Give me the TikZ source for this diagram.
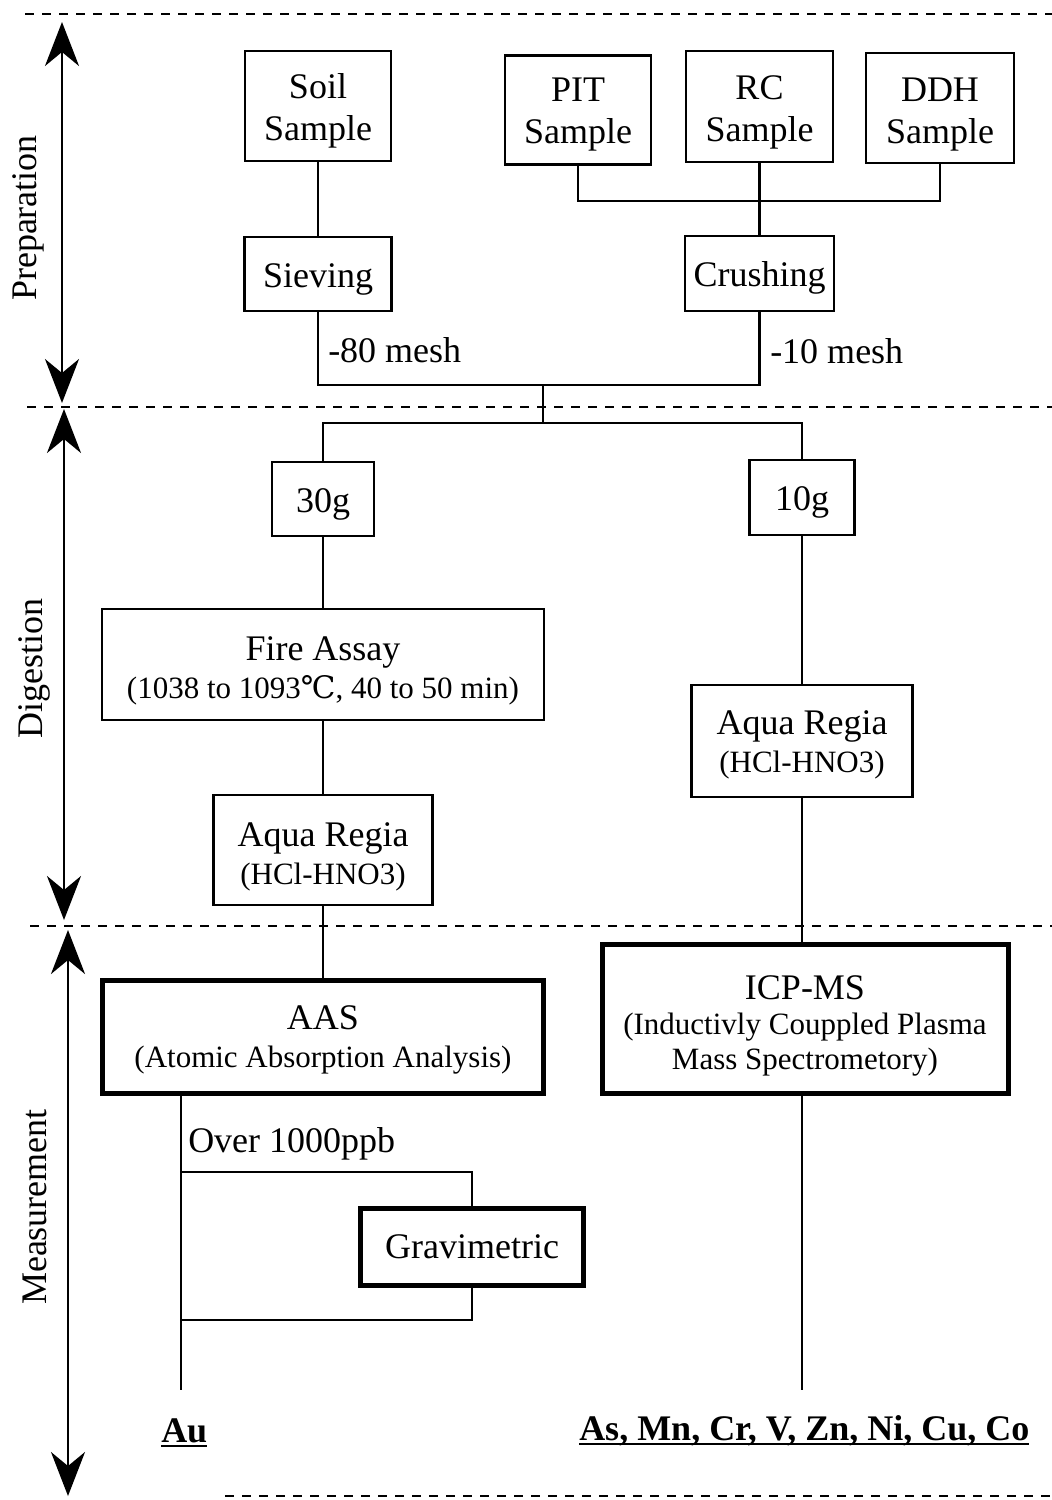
\documentclass[tikz,border=0pt]{standalone}
\usepackage{fontspec}
\setmainfont{Liberation Serif}
\newfontfamily\dvserif{DejaVu Serif}
\usetikzlibrary{arrows.meta}
\newcommand\ulbold[1]{\setbox0\hbox{\bfseries #1}\rlap{\rule[-5pt]{\wd0}{2.5pt}}\box0}
\newcommand\smallline{\fontsize{31}{37}\selectfont}
\newcommand\lift[1]{\rule{0pt}{#1pt}}
\begin{document}
\begin{tikzpicture}[x=1pt,y=-1pt, line width=2.5pt,
  box/.style={draw, inner sep=0pt, align=center, font=\fontsize{36}{42}\selectfont},
  tbox/.style={box, line width=5pt},
  lbl/.style={inner sep=0pt, font=\fontsize{36}{42}\selectfont},
  sepline/.style={line width=2pt, dash pattern=on 9pt off 8pt},
  span/.style={line width=2.5pt, {Stealth[length=44pt,width=34pt,inset=14pt]}-{Stealth[length=44pt,width=34pt,inset=14pt]}}
]
\useasboundingbox (0,0) rectangle (1052,1500);

% section separators
\draw[sepline] (25,14) -- (1052,14);
\draw[sepline] (27,407) -- (1052,407);
\draw[sepline] (30,926) -- (1052,926);
\draw[sepline] (225,1496) -- (1052,1496);

% stage arrows and labels
\draw[span] (62,22) -- (62,403);
\draw[span] (64,409) -- (64,920);
\draw[span] (68,930) -- (68,1496);
\node[lbl, rotate=90] (prep) at (28,218) {Preparation};
\node[lbl, rotate=90] (dig) at (34,668) {Digestion};
\node[lbl, rotate=90] (meas) at (35,1207) {Measurement};

% preparation
\node[box, minimum width=146, minimum height=110] (soil) at (318,106) {\lift{35}Soil\\Sample};
\node[box, minimum width=146, minimum height=109] (pit) at (578,110) {\lift{33}PIT\\Sample};
\node[box, minimum width=147, minimum height=111] (rc) at (759.5,106.5) {\lift{36}RC\\Sample};
\node[box, minimum width=148, minimum height=110] (ddh) at (940,108) {\lift{36}DDH\\Sample};
\node[box, minimum width=147, minimum height=74] (sieve) at (318,274) {\lift{34}Sieving};
\node[box, minimum width=149, minimum height=75] (crush) at (759.5,273.5) {\lift{34}Crushing};

\coordinate (j1) at (759.5,201);
\coordinate (j2) at (543,385);
\coordinate (j3) at (543,423);

\draw (soil) -- (sieve);
\draw (pit.south) |- (j1) -| (ddh.south);
\draw (rc) -- (crush);
\draw (sieve.south) |- (j2) -| (crush.south);
\draw (j2) -- (j3);
\node[lbl, anchor=base west] (m80) at (327,362) {-80 mesh};
\node[lbl, anchor=base west] (m10) at (769,363) {-10 mesh};

% digestion
\node[box, minimum width=102, minimum height=74] (g30) at (323,499) {\lift{34}30g};
\node[box, minimum width=105, minimum height=75] (g10) at (802,497.5) {\lift{34}10g};
\node[box, minimum width=442, minimum height=111] (fire) at (323,664.5)
  {\lift{37}Fire Assay\\[-4pt]\smallline(1038 to 1093{\dvserif ℃}, 40 to 50 min)};
\node[box, minimum width=221, minimum height=112] (aqr) at (802,741)
  {\lift{31}Aqua Regia\\[-4pt]\smallline(HCl-HNO3)};
\node[box, minimum width=219, minimum height=110] (aql) at (323,850)
  {\lift{38}Aqua Regia\\[-4pt]\smallline(HCl-HNO3)};

\draw (g30.north) |- (j3) -| (g10.north);
\draw (g30) -- (fire);
\draw (fire) -- (aql);
\draw (g10) -- (aqr);

% measurement
\node[tbox, minimum width=441, minimum height=113] (aas) at (323,1036.5)
  {\lift{31}AAS\\[-4pt]\smallline(Atomic Absorption Analysis)};
\node[tbox, minimum width=406, minimum height=149] (icp) at (805,1018.5)
  {\lift{38}ICP-MS\\[-7pt]\smallline(Inductivly Couppled Plasma\\[-7pt]\smallline Mass Spectrometory)};
\node[tbox, minimum width=223, minimum height=77] (grav) at (472,1246.5) {Gravimetric};

\draw (aql) -- (aas);
\draw (aqr.south) -- (aqr.south |- icp.north);

\coordinate (auend) at (181,1390);
\coordinate (b1) at (181,1172);
\coordinate (b2) at (181,1320);
\coordinate (icpend) at (802,1390);
\draw (aas.south -| auend) -- (auend);
\draw (b1) -| (grav.north);
\draw (grav.south) |- (b2);
\draw (icp.south -| icpend) -- (icpend);

\node[lbl, anchor=base west] (over) at (187,1152) {Over 1000ppb};
\node[lbl, anchor=base west] (au) at (160,1442) {\ulbold{Au}};
\node[lbl, anchor=base west] (elem) at (578,1440) {\ulbold{As, Mn, Cr, V, Zn, Ni, Cu, Co}};
\end{tikzpicture}
\end{document}
